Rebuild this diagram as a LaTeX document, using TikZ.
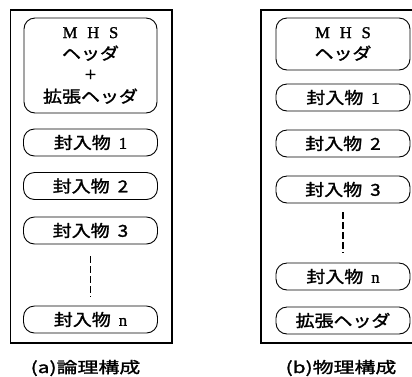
\documentclass[tikz,border=0pt]{standalone}
\usepackage{fontspec}
\setmainfont{Liberation Serif}[FakeBold=1.4]
\newfontfamily\cjk{Noto Sans CJK JP}[FakeBold=1.6, FakeStretch=1.15]
\newfontfamily\capfont{Noto Sans CJK JP}[FakeBold=1.6, FakeStretch=1.35]
\begin{document}
\begin{tikzpicture}[x=1pt,y=-1pt,
  outerbox/.style={draw, line width=1.1pt},
  hdrbox/.style={draw, line width=0.9pt, rounded corners=11pt, align=center, inner sep=0pt, font=\fontsize{16.5}{21.5}\selectfont},
  sealbox/.style={draw, line width=0.9pt, rounded corners=11pt, inner sep=0pt, minimum height=27pt, font=\fontsize{16.5}{18}\selectfont},
  dots/.style={line width=1.1pt, dash pattern=on 7pt off 3pt},
  caption/.style={font=\capfont\fontsize{15.5}{18}\selectfont}
]
\useasboundingbox (0,0) rectangle (412,376);
% outer frames
\draw[outerbox] (10.5,10) rectangle (172,343);
\draw[outerbox] (261,10) rectangle (418,343);
% (a)
\node[hdrbox, minimum width=133pt, minimum height=95pt] (ah) at (90.5,65.5)
  {M\hspace{0.6em}H\hspace{0.6em}S\\{\cjk ヘッダ}\\{\fontsize{20}{20}\selectfont +}\\{\cjk 拡張ヘッダ}};
\node[sealbox, minimum width=134pt] (a1) at (90.5,142.5) {{\cjk 封入物}\hspace{8pt}1};
\node[sealbox, minimum width=134pt] (a2) at (90.5,186) {{\cjk 封入物}\hspace{8pt}{\cjk 2}};
\node[sealbox, minimum width=134pt] (a3) at (90.5,230.5) {{\cjk 封入物}\hspace{8pt}{\cjk 3}};
\node[sealbox, minimum width=134pt] (an) at (90.5,319.5) {{\cjk 封入物}\hspace{8pt}n};
\draw[dots, shorten <=12pt, shorten >=9pt] (a3.south) -- (an.north);
\node[caption] (ca) at (85.5,368) {(a)論理構成};
% (b)
\node[hdrbox, minimum width=134pt, minimum height=52pt] (bh) at (343,44)
  {M\hspace{0.6em}H\hspace{0.6em}S\\{\cjk ヘッダ}};
\node[sealbox, minimum width=134pt] (b1) at (343,97.5) {{\cjk 封入物}\hspace{8pt}1};
\node[sealbox, minimum width=134pt] (b2) at (343,143.5) {{\cjk 封入物}\hspace{8pt}{\cjk 2}};
\node[sealbox, minimum width=134pt] (b3) at (343,189.5) {{\cjk 封入物}\hspace{8pt}{\cjk 3}};
\node[sealbox, minimum width=134pt] (bn) at (343,276.5) {{\cjk 封入物}\hspace{8pt}n};
\node[sealbox, minimum width=134pt] (bx) at (343,320.5) {{\cjk 拡張ヘッダ}};
\draw[dots, shorten <=9pt, shorten >=10pt] (b3.south) -- (bn.north);
\node[caption] (cb) at (341,368) {(b)物理構成};
\end{tikzpicture}
\end{document}
